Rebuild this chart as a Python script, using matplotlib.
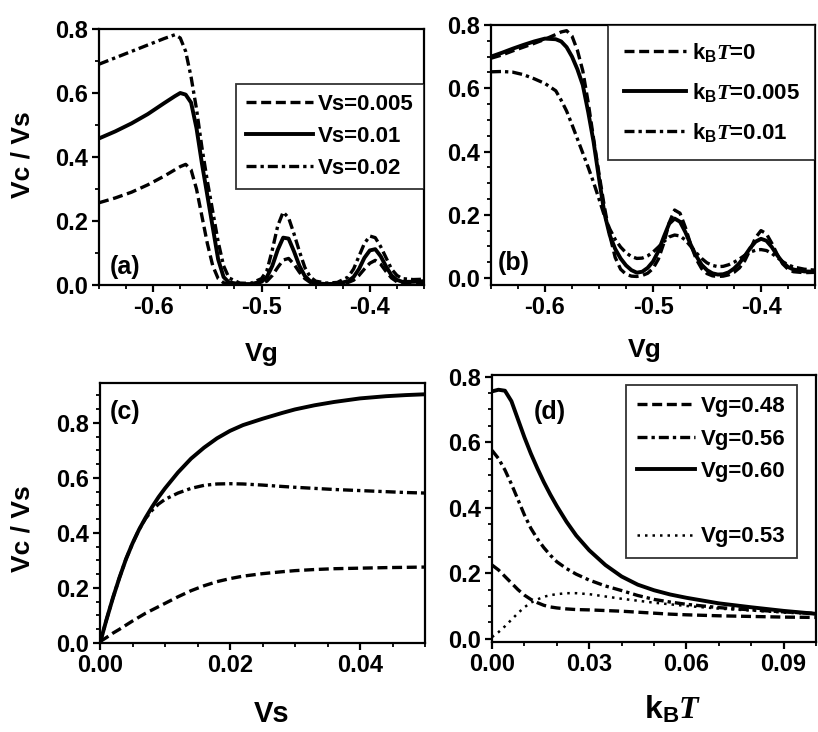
import matplotlib
matplotlib.use('Agg')
import matplotlib.pyplot as plt
from matplotlib.lines import Line2D
from matplotlib.ticker import MultipleLocator, FormatStrFormatter

plt.rcParams['font.family'] = ['Liberation Sans', 'DejaVu Sans']
plt.rcParams['font.weight'] = 'bold'
plt.rcParams['mathtext.fontset'] = 'custom'
plt.rcParams['mathtext.rm'] = 'Liberation Sans:bold'
plt.rcParams['mathtext.it'] = 'Liberation Serif:italic'
plt.rcParams['mathtext.bf'] = 'Liberation Sans:bold'

# ---------------- panel (a) ----------------
vg_a = [-0.65, -0.635, -0.62, -0.605, -0.59, -0.58, -0.575, -0.57, -0.565, -0.56,
        -0.555, -0.55, -0.545, -0.54, -0.535, -0.53, -0.52, -0.51, -0.50, -0.495,
        -0.49, -0.485, -0.48, -0.475, -0.47, -0.465, -0.46, -0.455, -0.45, -0.44,
        -0.43, -0.42, -0.415, -0.41, -0.405, -0.40, -0.395, -0.39, -0.385, -0.38,
        -0.375, -0.37, -0.36, -0.35]
a_vs005 = [0.257, 0.272, 0.29, 0.313, 0.34, 0.36, 0.37, 0.377, 0.36, 0.30,
           0.215, 0.13, 0.06, 0.02, 0.007, 0.003, 0.002, 0.002, 0.006, 0.012,
           0.03, 0.055, 0.078, 0.083, 0.065, 0.04, 0.02, 0.008, 0.004, 0.002,
           0.003, 0.008, 0.015, 0.03, 0.05, 0.068, 0.077, 0.065, 0.042, 0.022,
           0.01, 0.006, 0.006, 0.008]
a_vs01 = [0.458, 0.48, 0.505, 0.534, 0.568, 0.59, 0.60, 0.595, 0.57, 0.49,
          0.38, 0.28, 0.18, 0.08, 0.025, 0.008, 0.003, 0.003, 0.01, 0.025,
          0.06, 0.11, 0.148, 0.145, 0.105, 0.06, 0.028, 0.012, 0.005, 0.003,
          0.004, 0.012, 0.025, 0.05, 0.085, 0.108, 0.112, 0.09, 0.058, 0.03,
          0.016, 0.01, 0.01, 0.012]
a_vs02 = [0.690, 0.71, 0.73, 0.75, 0.77, 0.782, 0.772, 0.73, 0.65, 0.55,
          0.43, 0.325, 0.23, 0.135, 0.06, 0.022, 0.006, 0.005, 0.02, 0.045,
          0.11, 0.185, 0.228, 0.21, 0.16, 0.105, 0.055, 0.025, 0.012, 0.006,
          0.008, 0.025, 0.05, 0.09, 0.13, 0.153, 0.148, 0.12, 0.085, 0.05,
          0.03, 0.02, 0.017, 0.018]
labels_a = ['Vs=0.005', 'Vs=0.01', 'Vs=0.02']

# ---------------- panel (b) ----------------
vg_b = [-0.65, -0.64, -0.63, -0.62, -0.61, -0.60, -0.59, -0.585, -0.58, -0.575,
        -0.57, -0.565, -0.56, -0.555, -0.55, -0.545, -0.54, -0.535, -0.53, -0.525,
        -0.52, -0.515, -0.51, -0.505, -0.50, -0.495, -0.49, -0.485, -0.48, -0.475,
        -0.47, -0.465, -0.46, -0.455, -0.45, -0.445, -0.44, -0.435, -0.43, -0.425,
        -0.42, -0.415, -0.41, -0.405, -0.40, -0.395, -0.39, -0.385, -0.38, -0.375,
        -0.37, -0.36, -0.35]
b_kt0 = [0.695, 0.705, 0.718, 0.73, 0.742, 0.755, 0.770, 0.778, 0.782, 0.765,
         0.72, 0.655, 0.555, 0.44, 0.33, 0.225, 0.135, 0.065, 0.028, 0.012,
         0.006, 0.005, 0.008, 0.015, 0.03, 0.06, 0.11, 0.175, 0.215, 0.205,
         0.16, 0.105, 0.06, 0.03, 0.014, 0.007, 0.005, 0.006, 0.01, 0.018,
         0.032, 0.055, 0.09, 0.128, 0.15, 0.14, 0.11, 0.075, 0.045, 0.028,
         0.02, 0.017, 0.018]
b_kt005 = [0.70, 0.712, 0.725, 0.737, 0.748, 0.757, 0.755, 0.748, 0.73, 0.70,
           0.66, 0.61, 0.525, 0.43, 0.315, 0.205, 0.135, 0.092, 0.062, 0.04,
           0.025, 0.017, 0.02, 0.032, 0.052, 0.085, 0.13, 0.172, 0.188, 0.178,
           0.145, 0.105, 0.07, 0.042, 0.025, 0.015, 0.011, 0.012, 0.018, 0.03,
           0.047, 0.07, 0.095, 0.115, 0.124, 0.118, 0.098, 0.072, 0.05, 0.035,
           0.027, 0.021, 0.02]
b_kt01 = [0.652, 0.653, 0.651, 0.643, 0.63, 0.615, 0.592, 0.562, 0.528, 0.485,
          0.44, 0.395, 0.35, 0.302, 0.25, 0.197, 0.155, 0.122, 0.098, 0.08,
          0.068, 0.062, 0.063, 0.07, 0.082, 0.098, 0.115, 0.13, 0.136, 0.133,
          0.12, 0.10, 0.08, 0.062, 0.048, 0.04, 0.036, 0.037, 0.042, 0.05,
          0.06, 0.072, 0.082, 0.088, 0.09, 0.087, 0.078, 0.065, 0.052, 0.042,
          0.035, 0.028, 0.025]
labels_b = [r'k$_{\rm B}\mathit{T}$=0', r'k$_{\rm B}\mathit{T}$=0.005', r'k$_{\rm B}\mathit{T}$=0.01']

# ---------------- panel (c) ----------------
vs_c = [0, 0.001, 0.002, 0.003, 0.004, 0.005, 0.006, 0.007, 0.008, 0.009,
        0.010, 0.012, 0.014, 0.016, 0.018, 0.020, 0.022, 0.025, 0.028, 0.030,
        0.033, 0.036, 0.040, 0.044, 0.047, 0.050]
c_solid = [0.0, 0.085, 0.165, 0.238, 0.305, 0.362, 0.412, 0.455, 0.494, 0.53,
           0.562, 0.62, 0.67, 0.71, 0.744, 0.771, 0.792, 0.815, 0.836, 0.849,
           0.864, 0.876, 0.889, 0.897, 0.901, 0.904]
c_dashdot = [0.0, 0.085, 0.165, 0.238, 0.305, 0.362, 0.412, 0.452, 0.482, 0.505,
             0.522, 0.545, 0.562, 0.573, 0.578, 0.579, 0.578, 0.574, 0.569, 0.566,
             0.562, 0.558, 0.554, 0.55, 0.547, 0.545]
c_dashed = [0.005, 0.02, 0.036, 0.05, 0.065, 0.08, 0.094, 0.108, 0.12, 0.132,
            0.144, 0.168, 0.19, 0.208, 0.223, 0.234, 0.243, 0.252, 0.259, 0.263,
            0.267, 0.27, 0.272, 0.274, 0.275, 0.276]

# ---------------- panel (d) ----------------
kt_d = [0, 0.002, 0.004, 0.006, 0.008, 0.010, 0.012, 0.014, 0.016, 0.018,
        0.020, 0.023, 0.026, 0.030, 0.035, 0.040, 0.045, 0.050, 0.055, 0.060,
        0.070, 0.080, 0.090, 0.100]
d_vg48 = [0.225, 0.21, 0.19, 0.17, 0.15, 0.133, 0.12, 0.11, 0.102, 0.097,
          0.094, 0.091, 0.089, 0.088, 0.086, 0.084, 0.081, 0.078, 0.075, 0.073,
          0.07, 0.068, 0.066, 0.065]
d_vg56 = [0.575, 0.55, 0.515, 0.472, 0.425, 0.378, 0.337, 0.305, 0.278, 0.255,
          0.235, 0.214, 0.197, 0.179, 0.161, 0.147, 0.132, 0.12, 0.112, 0.105,
          0.095, 0.088, 0.082, 0.077]
d_vg60 = [0.755, 0.76, 0.757, 0.725, 0.67, 0.615, 0.565, 0.52, 0.478, 0.44,
          0.405, 0.357, 0.315, 0.27, 0.225, 0.19, 0.165, 0.148, 0.135, 0.125,
          0.108, 0.096, 0.085, 0.076]
d_vg53 = [0.005, 0.02, 0.038, 0.058, 0.078, 0.096, 0.11, 0.12, 0.128, 0.133,
          0.136, 0.139, 0.139, 0.136, 0.129, 0.122, 0.116, 0.11, 0.105, 0.10,
          0.092, 0.086, 0.08, 0.075]
labels_d = ['Vg=0.48', 'Vg=0.56', 'Vg=0.60', '', 'Vg=0.53']

# ---------------- styles ----------------
DASH = (0, (3.0, 1.4))
DASHDOT = (0, (3.0, 1.2, 1.0, 1.2))
DOT = (0, (1.0, 2.0))
LW = 2.4
LWS = 2.8
TICKFS = 17
LEGFS = 16

fig = plt.figure(figsize=(8.18, 7.32), dpi=100)
W, H = 818.0, 732.0

def add_ax(x0, x1, y0, y1):
    return fig.add_axes([x0 / W, 1 - y1 / H, (x1 - x0) / W, (y1 - y0) / H])

def style(ax, xlim, ylim, xmaj, xmin, ymaj, ymin, xfmt, yfmt):
    ax.set_xlim(*xlim)
    ax.set_ylim(*ylim)
    ax.xaxis.set_major_locator(MultipleLocator(xmaj))
    ax.xaxis.set_minor_locator(MultipleLocator(xmin))
    ax.yaxis.set_major_locator(MultipleLocator(ymaj))
    ax.yaxis.set_minor_locator(MultipleLocator(ymin))
    ax.xaxis.set_major_formatter(FormatStrFormatter(xfmt))
    ax.yaxis.set_major_formatter(FormatStrFormatter(yfmt))
    ax.tick_params(which='major', direction='out', length=5, width=1.6,
                   labelsize=TICKFS, pad=3)
    ax.tick_params(which='minor', direction='out', length=3, width=1.3)
    for s in ax.spines.values():
        s.set_linewidth(1.6)
    for lab in ax.get_xticklabels() + ax.get_yticklabels():
        lab.set_fontweight('bold')

def legend(ax, handles, labels, anchor, spacing, hl=3.0, pad=0.45):
    leg = ax.legend(handles, labels, loc='upper right', bbox_to_anchor=anchor,
                    borderaxespad=0, fancybox=False, frameon=True,
                    edgecolor='black', fontsize=LEGFS, handlelength=hl,
                    handletextpad=0.25, labelspacing=spacing, borderpad=pad)
    leg.get_frame().set_linewidth(1.3)
    for t in leg.get_texts():
        t.set_fontweight('bold')
    return leg

# (a)
axa = add_ax(99, 424, 29, 285)
h1, = axa.plot(vg_a, a_vs005, color='black', lw=LW, linestyle=DASH)
h2, = axa.plot(vg_a, a_vs01, color='black', lw=LWS, linestyle='-')
h3, = axa.plot(vg_a, a_vs02, color='black', lw=LW, linestyle=DASHDOT)
style(axa, (-0.65, -0.35), (0, 0.8), 0.1, 0.025, 0.2, 0.1, '%.1f', '%.1f')
legend(axa, [h1, h2, h3], labels_a, (1.0, 0.785), 0.5)
axa.text(0.034, 0.07, '(a)', transform=axa.transAxes, fontsize=18,
         fontweight='bold', va='center', ha='left')

# (b)
axb = add_ax(491, 815, 25, 285)
g1, = axb.plot(vg_b, b_kt0, color='black', lw=LW, linestyle=DASH)
g2, = axb.plot(vg_b, b_kt005, color='black', lw=LWS, linestyle='-')
g3, = axb.plot(vg_b, b_kt01, color='black', lw=LW, linestyle=DASHDOT)
style(axb, (-0.65, -0.35), (-0.022, 0.8), 0.1, 0.025, 0.2, 0.05, '%.1f', '%.1f')
legend(axb, [g1, g2, g3], labels_b, (1.0, 1.0), 0.78, hl=2.8, pad=0.7)
axb.text(0.022, 0.085, '(b)', transform=axb.transAxes, fontsize=18,
         fontweight='bold', va='center', ha='left')

# (c)
axc = add_ax(100, 425, 383, 643)
axc.plot(vs_c, c_dashed, color='black', lw=LW, linestyle=DASH)
axc.plot(vs_c, c_dashdot, color='black', lw=LW, linestyle=DASHDOT)
axc.plot(vs_c, c_solid, color='black', lw=LWS, linestyle='-')
style(axc, (0, 0.05), (0, 0.945), 0.02, 0.005, 0.2, 0.05, '%.2f', '%.1f')
axc.text(0.031, 0.888, '(c)', transform=axc.transAxes, fontsize=18,
         fontweight='bold', va='center', ha='left')

# (d)
axd = add_ax(492, 816, 375, 642)
k1, = axd.plot(kt_d, d_vg48, color='black', lw=LW, linestyle=DASH)
k2, = axd.plot(kt_d, d_vg56, color='black', lw=LW, linestyle=DASHDOT)
k3, = axd.plot(kt_d, d_vg60, color='black', lw=LWS, linestyle='-')
k4, = axd.plot(kt_d, d_vg53, color='black', lw=1.8, linestyle=DOT)
blank = Line2D([], [], linestyle='none')
legend(axd, [k1, k2, k3, blank, k4], labels_d, (0.94, 0.9625), 0.52, hl=2.6, pad=0.5)
axd.text(0.13, 0.86, '(d)', transform=axd.transAxes, fontsize=18,
         fontweight='bold', va='center', ha='left')
style(axd, (0, 0.1), (-0.01, 0.805), 0.03, 0.01, 0.2, 0.05, '%.2f', '%.1f')

# axis labels
fig.text(23 / W, 1 - 155 / H, 'Vc / Vs', rotation=90, fontsize=19,
         fontweight='bold', ha='center', va='center')
fig.text(23 / W, 1 - 529 / H, 'Vc / Vs', rotation=90, fontsize=19,
         fontweight='bold', ha='center', va='center')
fig.text(262 / W, 1 - 354 / H, 'Vg', fontsize=19, fontweight='bold',
         ha='center', va='center')
fig.text(645 / W, 1 - 350 / H, 'Vg', fontsize=19, fontweight='bold',
         ha='center', va='center')
fig.text(272 / W, 1 - 714 / H, 'Vs', fontsize=21, fontweight='bold',
         ha='center', va='center')
fig.text(673 / W, 1 - 710 / H, r'k$_{\rm B}\mathit{T}$', fontsize=23,
         fontweight='bold', ha='center', va='center')

fig.savefig('out.png', dpi=100)
